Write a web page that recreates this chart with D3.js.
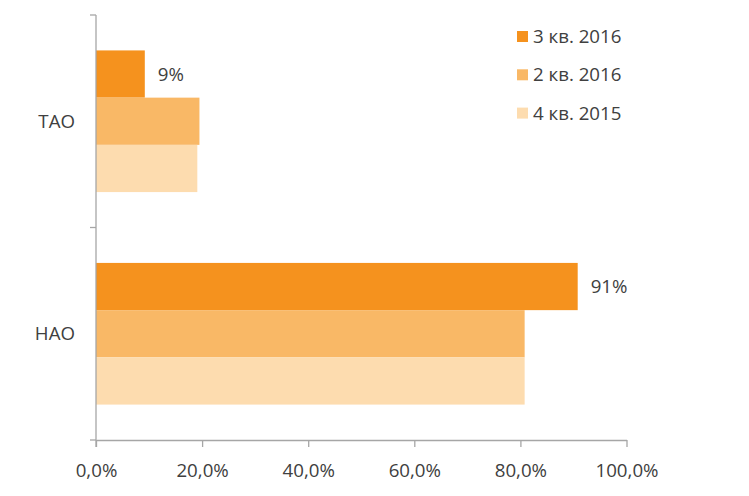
<!DOCTYPE html>
<html>
<head>
<meta charset="utf-8">
<script src="https://cdn.jsdelivr.net/npm/d3@7"></script>
<style>
  html, body { margin: 0; padding: 0; background: #fff; }
  svg { display: block; font-family: "Open Sans", "Noto Sans", sans-serif; }
</style>
</head>
<body>
<svg id="chart" width="749" height="496"></svg>
<script>
const categories = ["ТАО", "НАО"];
const seriesNames = ["3 кв. 2016", "2 кв. 2016", "4 кв. 2015"];
const seriesColors = ["#F5921E", "#F9B866", "#FDDCAF"];
const valuesQ3_2016 = [9.2, 90.8];
const valuesQ2_2016 = [19.5, 80.8];
const valuesQ4_2015 = [19.1, 80.8];
const dataLabels = ["9%", "91%"];
const xTicks = [0, 20, 40, 60, 80, 100];

(function () {
const seriesValues = [valuesQ3_2016, valuesQ2_2016, valuesQ4_2015];
const textColor = "#404040";
const axisColor = "#A6A6A6";
const fs = 18.7;

const svg = d3.select("#chart");
const mLeft = 96, mRight = 626.5, mTop = 15, mBottom = 440;

const x = d3.scaleLinear().domain([0, 100]).range([mLeft, mRight]);
const y = d3.scaleBand().domain(categories).range([mTop, mBottom])
  .paddingInner(1/3).paddingOuter(1/6);
const ySub = d3.scaleBand().domain(seriesNames).range([0, y.bandwidth()]).padding(0);

// bars
categories.forEach((cat, ci) => {
  seriesNames.forEach((s, si) => {
    svg.append("rect")
      .attr("x", x(0))
      .attr("y", y(cat) + ySub(s))
      .attr("width", x(seriesValues[si][ci]) - x(0))
      .attr("height", ySub.bandwidth())
      .attr("fill", seriesColors[si]);
  });
  svg.append("text")
    .attr("x", x(seriesValues[0][ci]) + 13)
    .attr("y", y(cat) + ySub(seriesNames[0]) + ySub.bandwidth() / 2)
    .attr("dy", "0.35em")
    .attr("font-size", fs)
    .attr("fill", textColor)
    .text(dataLabels[ci]);
});

// x axis
const xAxis = svg.append("g").attr("transform", `translate(0,${mBottom})`)
  .call(d3.axisBottom(x).tickValues(xTicks).tickSize(7).tickSizeOuter(0)
    .tickFormat(d => d3.format(".1f")(d).replace(".", ",") + "%"));
xAxis.select(".domain").attr("stroke", axisColor).attr("stroke-width", 1.3);
xAxis.selectAll(".tick line").attr("stroke", axisColor).attr("stroke-width", 1.3);
xAxis.selectAll(".tick text").attr("fill", textColor).attr("font-size", fs)
  .attr("font-family", "Open Sans, sans-serif").attr("y", 30).attr("dy", "0.35em");

// y axis line with category boundary ticks
svg.append("line").attr("x1", mLeft).attr("x2", mLeft).attr("y1", mTop).attr("y2", mBottom + 7)
  .attr("stroke", axisColor).attr("stroke-width", 1.3);
const boundaries = [mTop, mTop + y.step(), mBottom];
svg.selectAll(".ytick").data(boundaries).enter().append("line")
  .attr("x1", mLeft - 6).attr("x2", mLeft)
  .attr("y1", d => d).attr("y2", d => d)
  .attr("stroke", axisColor).attr("stroke-width", 1.3);

// category labels
svg.selectAll(".cat").data(categories).enter().append("text")
  .attr("x", 75)
  .attr("y", d => y(d) + y.bandwidth() / 2)
  .attr("dy", "0.35em")
  .attr("text-anchor", "end")
  .attr("font-size", fs)
  .attr("fill", textColor)
  .text(d => d);

// legend
seriesNames.forEach((s, i) => {
  const cy = 36.5 + i * 38.3;
  svg.append("rect").attr("x", 517).attr("y", cy - 5.5).attr("width", 11).attr("height", 11)
    .attr("fill", seriesColors[i]);
  svg.append("text").attr("x", 533).attr("y", cy).attr("dy", "0.35em")
    .attr("font-size", fs).attr("fill", textColor).text(s);
});
})();
</script>
</body>
</html>
